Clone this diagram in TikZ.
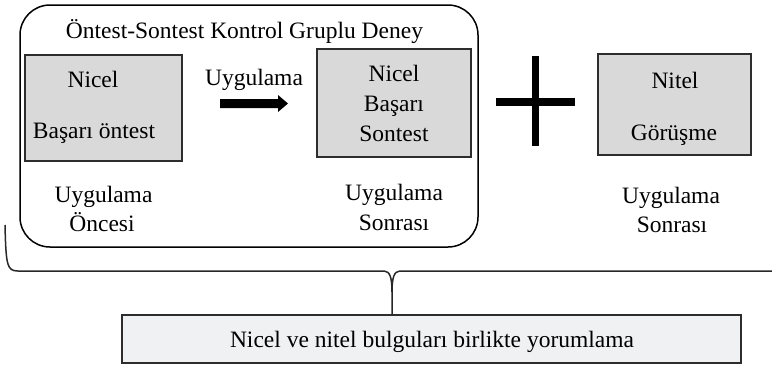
\documentclass[tikz,border=0pt]{standalone}
\usepackage{fontspec}
\setmainfont{Liberation Serif}
\definecolor{boxgray}{RGB}{217,217,217}
\definecolor{boxline}{RGB}{45,45,45}
\definecolor{lightfill}{RGB}{240,241,243}
\definecolor{braceline}{RGB}{40,40,40}
\begin{document}
\begin{tikzpicture}[x=1pt,y=-1pt,
  txt/.style={anchor=base,inner sep=0pt,font=\fontsize{23.5}{28}\selectfont},
  grbox/.style={draw=boxline,line width=2pt,fill=boxgray,inner sep=0pt},
  litebox/.style={draw=boxline,line width=2pt,fill=lightfill,inner sep=0pt},
  frame/.style={draw=black,line width=1.5pt,rounded corners=30pt,inner sep=0pt},
  bracepath/.style={draw=braceline,line width=1.5pt},
  symbolfill/.style={fill=black}]
\useasboundingbox (0,0) rectangle (772,365);
% outer rounded frame
\node[frame,minimum width=458pt,minimum height=242pt] (frm) at (249,126) {};
\node[txt] (title) at (244.5,38) {Öntest-Sontest Kontrol Gruplu Deney};
% box 1
\node[grbox,minimum width=157pt,minimum height=106pt] (b1) at (103.5,108) {};
\node[txt] (b1a) at (93,87) {Nicel};
\node[txt] (b1b) at (94,138) {Başarı öntest};
\node[txt] (l1a) at (103.5,202) {Uygulama};
\node[txt] (l1b) at (102,231) {Öncesi};
% arrow
\node[txt] (arrl) at (254,85) {Uygulama};
\fill[symbolfill] (220,99) -- (278,99) -- (278,95) -- (288,103.5) -- (278,112) -- (278,108) -- (220,108) -- cycle;
% box 2
\node[grbox,minimum width=154pt,minimum height=108pt] (b2) at (394,103) {};
\node[txt] (b2a) at (394,81) {Nicel};
\node[txt] (b2b) at (394,111) {Başarı};
\node[txt] (b2c) at (394,141) {Sontest};
\node[txt] (l2a) at (394,200) {Uygulama};
\node[txt] (l2b) at (394,230) {Sonrası};
% plus
\fill[symbolfill] (531.5,56) rectangle (539,146);
\fill[symbolfill] (496,98) rectangle (575,106);
% box 3
\node[grbox,minimum width=153pt,minimum height=101pt] (b3) at (674.5,104.5) {};
\node[txt] (b3a) at (675,88) {Nitel};
\node[txt] (b3b) at (674,140) {Görüşme};
\node[txt] (l3a) at (671,203) {Uygulama};
\node[txt] (l3b) at (672,232) {Sonrası};
% bottom box
\node[litebox,minimum width=619pt,minimum height=48pt] (bot) at (431.5,339) {};
\node[txt] (bott) at (432,347) {Nicel ve nitel bulguları birlikte yorumlama};
% brace
\coordinate (tip) at (392,292);
\draw[bracepath] (5,225) .. controls (5.5,245) and (6,258) .. (8,264)
  .. controls (9.5,269) and (12,271) .. (18,271) -- (384,271)
  .. controls (390,271) and (392,278) .. (tip) -- (tip |- bot.north);
\draw[bracepath] (tip) .. controls (392,278) and (394,271) .. (400,271) -- (775,271);
\end{tikzpicture}
\end{document}
